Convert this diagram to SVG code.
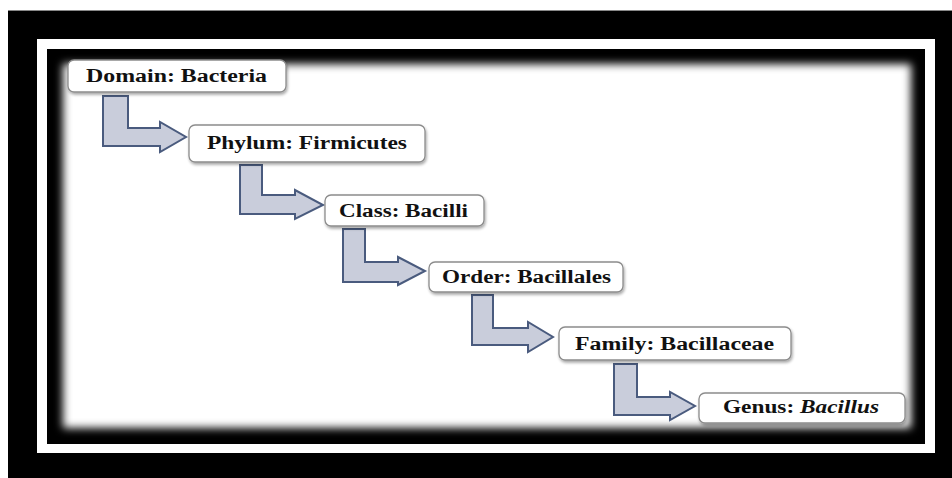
<svg xmlns="http://www.w3.org/2000/svg" width="952" height="478" viewBox="0 0 952 478">
<style>
.box{fill:#ffffff;stroke:#8c8c8c;stroke-width:1.3;filter:url(#sh)}
.arr{fill:#c9cddb;stroke:#4a5b7e;stroke-width:2;stroke-linejoin:miter}
.lbl{font-family:"Liberation Serif","Times New Roman",serif;font-weight:bold;font-size:18px;fill:#111111}
</style>
<defs>
<filter id="sh" x="-10%" y="-30%" width="120%" height="170%">
<feGaussianBlur in="SourceAlpha" stdDeviation="1.5"/>
<feOffset dx="1" dy="2" result="b"/>
<feComponentTransfer><feFuncA type="linear" slope="0.35"/></feComponentTransfer>
<feMerge><feMergeNode/><feMergeNode in="SourceGraphic"/></feMerge>
</filter>
<filter id="vig" x="-5%" y="-5%" width="110%" height="110%">
<feGaussianBlur stdDeviation="4.5"/>
</filter>
<clipPath id="inner"><rect x="47" y="49" width="878" height="395"/></clipPath>
</defs>
<rect x="0" y="0" width="952" height="478" fill="#ffffff"/>
<rect x="8" y="10" width="944" height="468" fill="#000000"/>
<line x1="8" y1="10.5" x2="952" y2="10.5" stroke="#888" stroke-width="1"/>
<rect x="37" y="39" width="898" height="414" fill="#ffffff"/>
<rect x="47" y="49" width="878" height="395" fill="#000000"/>
<g clip-path="url(#inner)">
<rect x="63" y="64" width="848" height="364" fill="#ffffff" filter="url(#vig)"/>
</g>
<g id="connectors">
<polygon class="arr" points="103,96 128,96 128,128 160,128 160,122 186,137 160,152 160,146 103,146"/>
<polygon class="arr" points="240,165 262,165 262,195 295,195 295,190 323,205 295,219 295,214 240,214"/>
<polygon class="arr" points="343,229 365,229 365,262 398,262 398,257 425,271 398,285 398,282 343,282"/>
<polygon class="arr" points="472,295 493,295 493,328 528,328 528,322 553,337 528,352 528,345 472,345"/>
<polygon class="arr" points="614,364 637,364 637,397 670,397 670,392 695,406 670,420 670,415 614,415"/>
</g>
<g id="domain">
<rect class="box" x="68" y="60" width="218" height="32" rx="6"/>
<text class="lbl" x="86" y="82" textLength="181" lengthAdjust="spacingAndGlyphs">Domain: Bacteria</text>
</g>
<g id="phylum">
<rect class="box" x="189" y="125" width="236" height="37" rx="6"/>
<text class="lbl" x="207" y="149" textLength="200" lengthAdjust="spacingAndGlyphs">Phylum: Firmicutes</text>
</g>
<g id="class">
<rect class="box" x="325" y="195" width="159" height="31" rx="6"/>
<text class="lbl" x="339" y="217" textLength="129" lengthAdjust="spacingAndGlyphs">Class: Bacilli</text>
</g>
<g id="order">
<rect class="box" x="429" y="262" width="194" height="30" rx="6"/>
<text class="lbl" x="442" y="283" textLength="169" lengthAdjust="spacingAndGlyphs">Order: Bacillales</text>
</g>
<g id="family">
<rect class="box" x="559" y="327" width="232" height="33" rx="6"/>
<text class="lbl" x="575" y="350" textLength="199" lengthAdjust="spacingAndGlyphs">Family: Bacillaceae</text>
</g>
<g id="genus">
<rect class="box" x="699" y="393" width="206" height="30" rx="6"/>
<text class="lbl" x="723" y="413" textLength="156" lengthAdjust="spacingAndGlyphs">Genus: <tspan font-style="italic">Bacillus</tspan></text>
</g>
</svg>
